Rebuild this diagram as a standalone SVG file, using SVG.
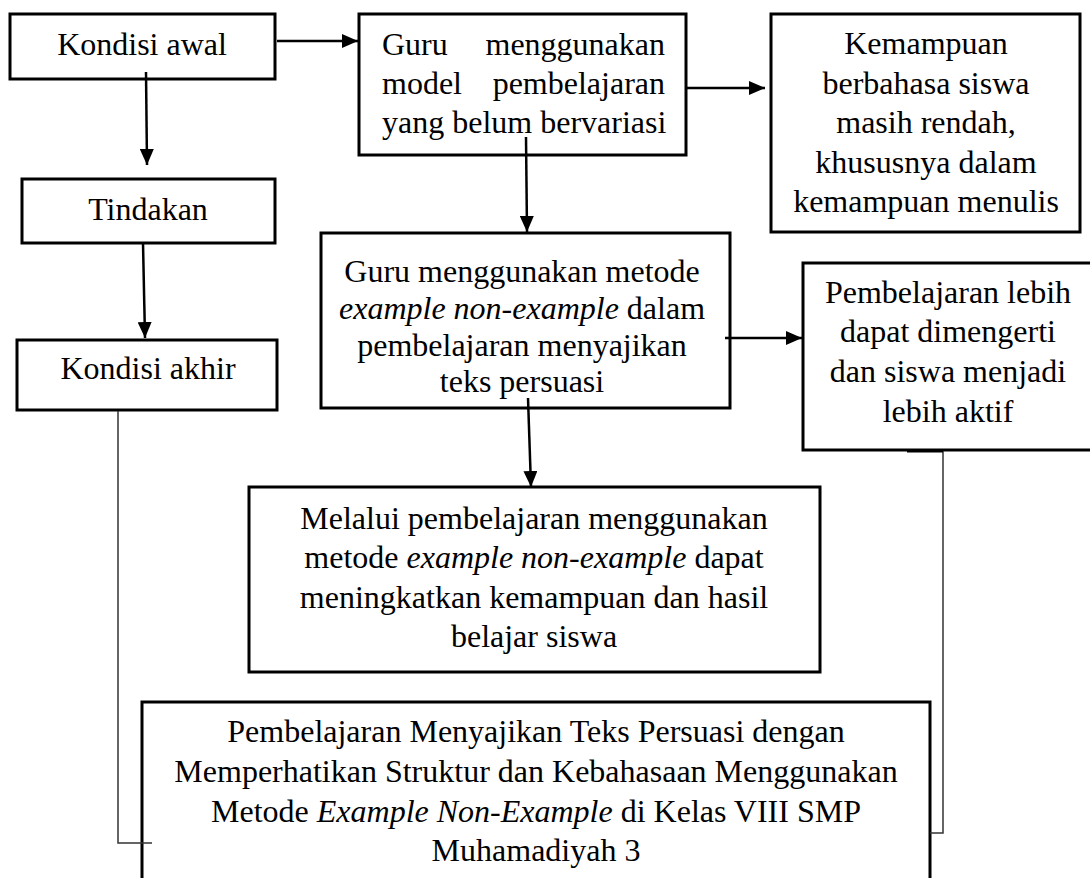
<svg xmlns="http://www.w3.org/2000/svg" width="1090" height="878" viewBox="0 0 1090 878">
<style>
  .box { fill: #ffffff; stroke: #000000; stroke-width: 3; }
  .t { font-family: "Liberation Serif", "Times New Roman", serif; font-size: 32px; fill: #000000; }
  .c { text-anchor: middle; }
  .i { font-style: italic; }
  .arrow { stroke: #000000; stroke-width: 2.5; fill: none; marker-end: url(#ah); }
  .link { stroke: #333333; stroke-width: 1.5; fill: none; }
</style>
<defs>
  <marker id="ah" markerUnits="userSpaceOnUse" markerWidth="16" markerHeight="14" refX="16" refY="7" orient="auto">
    <path d="M0,0 L16,7 L0,14 z" fill="#000000"/>
  </marker>
</defs>
<rect width="1090" height="878" fill="#ffffff"/>

<g id="n-kondisi-awal">
  <rect class="box" x="10" y="14" width="265" height="65"/>
  <text class="t c" x="142" y="55">Kondisi awal</text>
</g>
<g id="n-tindakan">
  <rect class="box" x="22" y="179" width="253" height="64"/>
  <text class="t c" x="148" y="220">Tindakan</text>
</g>
<g id="n-kondisi-akhir">
  <rect class="box" x="17" y="340" width="260" height="70"/>
  <text class="t c" x="148" y="379">Kondisi akhir</text>
</g>
<g id="n-guru-model">
  <rect class="box" x="359" y="14" width="327" height="141"/>
  <text class="t" x="382" y="55">Guru</text>
  <text class="t" x="665" y="55" text-anchor="end">menggunakan</text>
  <text class="t" x="382" y="94">model</text>
  <text class="t" x="665" y="94" text-anchor="end">pembelajaran</text>
  <text class="t" x="382" y="133">yang belum bervariasi</text>
</g>
<g id="n-kemampuan">
  <rect class="box" x="771" y="14" width="309" height="218"/>
  <text class="t c" x="926" y="54">Kemampuan</text>
  <text class="t c" x="926" y="93.5">berbahasa siswa</text>
  <text class="t c" x="926" y="133">masih rendah,</text>
  <text class="t c" x="926" y="172.5">khususnya dalam</text>
  <text class="t c" x="926" y="212">kemampuan menulis</text>
</g>
<g id="n-guru-metode">
  <rect class="box" x="321" y="233" width="409" height="175"/>
  <text class="t c" x="522" y="282">Guru menggunakan metode</text>
  <text class="t c" x="522" y="319"><tspan class="i">example non-example</tspan> dalam</text>
  <text class="t c" x="522" y="356">pembelajaran menyajikan</text>
  <text class="t c" x="522" y="392">teks persuasi</text>
</g>
<g id="n-pembelajaran-lebih">
  <rect class="box" x="803" y="263" width="292" height="187"/>
  <text class="t c" x="948" y="303">Pembelajaran lebih</text>
  <text class="t c" x="948" y="342">dapat dimengerti</text>
  <text class="t c" x="948" y="382">dan siswa menjadi</text>
  <text class="t c" x="948" y="422">lebih aktif</text>
</g>
<g id="n-melalui">
  <rect class="box" x="249" y="487" width="571" height="185"/>
  <text class="t c" x="534" y="528.5">Melalui pembelajaran menggunakan</text>
  <text class="t c" x="534" y="568">metode <tspan class="i">example non-example</tspan> dapat</text>
  <text class="t c" x="534" y="607.5">meningkatkan kemampuan dan hasil</text>
  <text class="t c" x="534" y="646.5">belajar siswa</text>
</g>
<g id="n-judul">
  <rect class="box" x="142" y="702" width="788" height="200"/>
  <text class="t c" x="536" y="742">Pembelajaran Menyajikan Teks Persuasi dengan</text>
  <text class="t c" x="536" y="782">Memperhatikan Struktur dan Kebahasaan Menggunakan</text>
  <text class="t c" x="536" y="822">Metode <tspan class="i">Example Non-Example</tspan> di Kelas VIII SMP</text>
  <text class="t c" x="536" y="861">Muhamadiyah 3</text>
</g>

<g id="connectors">
  <line class="arrow" x1="277" y1="41" x2="358" y2="41"/>
  <line class="arrow" x1="146" y1="72" x2="147" y2="165"/>
  <line class="arrow" x1="143" y1="243" x2="145" y2="338"/>
  <line class="arrow" x1="526" y1="137" x2="527" y2="232"/>
  <line class="arrow" x1="685" y1="88" x2="765" y2="88"/>
  <line class="arrow" x1="725" y1="338" x2="802" y2="338"/>
  <line class="arrow" x1="528" y1="398" x2="531" y2="487"/>
  <polyline class="link" points="118,411 118,843 152,843"/>
  <polyline class="link" points="943,451 943,833 930,833"/>
  <line x1="907" y1="451.5" x2="943" y2="451.5" stroke="#000000" stroke-width="2"/>
</g>
</svg>
